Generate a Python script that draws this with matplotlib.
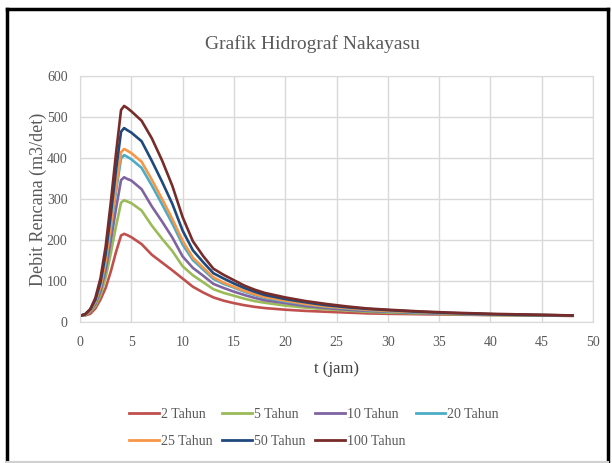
import matplotlib.pyplot as plt
from matplotlib.lines import Line2D

# jam
t = [0, 0.5, 1, 1.5, 2, 2.5, 3, 3.5, 4, 4.3, 4.6, 5, 6, 7, 8, 9, 10, 11, 12, 13,
     14, 15, 16, 17, 18, 20, 22, 24, 26, 28, 30, 33, 36, 40, 44, 48]

# debit rencana (m3/det) per kala ulang
q2 = [15, 16, 20, 33, 55, 83, 123, 170, 211, 215, 212, 207, 190, 164, 145, 126,
      106, 86, 72, 60, 52, 46, 41, 37, 34, 30, 27, 25, 23, 21, 20, 19, 18, 17, 16, 15]
q5 = [15, 17, 25, 39, 66, 108, 167, 232, 291, 297, 294, 290, 272, 235, 203, 173,
      136, 114, 97, 80, 71, 64, 57, 51, 47, 40, 35, 31, 28, 25, 23, 21, 19, 17, 16, 15]
q10 = [15, 18, 27, 44, 76, 127, 198, 275, 346, 353, 349, 345, 324, 282, 245, 206,
       160, 132, 113, 93, 83, 74, 66, 59, 53, 46, 39, 34, 30, 27, 25, 22, 20, 18, 17, 16]
q20 = [15, 18, 28, 48, 84, 144, 227, 317, 399, 407, 403, 397, 376, 333, 287, 240,
       189, 151, 128, 105, 93, 84, 74, 66, 59, 50, 43, 37, 33, 29, 26, 23, 21, 19, 17, 16]
q25 = [15, 18, 29, 50, 88, 149, 235, 328, 414, 422, 418, 412, 391, 347, 300, 251,
       198, 157, 133, 109, 96, 86, 76, 68, 61, 52, 44, 38, 34, 30, 27, 24, 21, 19, 17, 16]
q50 = [15, 19, 31, 54, 97, 166, 262, 368, 464, 473, 468, 462, 441, 393, 342, 288,
       223, 175, 146, 119, 106, 94, 83, 74, 66, 56, 48, 41, 36, 32, 29, 25, 22, 19, 17, 16]
q100 = [15, 19, 31, 59, 107, 184, 291, 409, 517, 527, 522, 514, 491, 448, 394, 332,
        256, 197, 161, 130, 115, 102, 89, 79, 71, 60, 51, 44, 38, 33, 30, 26, 23, 20, 18, 16]

labels = ['2 Tahun', '5 Tahun', '10 Tahun', '20 Tahun', '25 Tahun', '50 Tahun', '100 Tahun']
series = [q2, q5, q10, q20, q25, q50, q100]
colors = ['#C0504D', '#9BBB59', '#8064A2', '#4BACC6', '#F79646', '#1F497D', '#772C2A']

plt.rcParams['font.family'] = ['Liberation Serif', 'DejaVu Serif']

fig = plt.figure(figsize=(6.12, 4.63), dpi=100)
ax = fig.add_axes([80 / 612, 1 - 322 / 463, (593 - 80) / 612, (322 - 76) / 463])

for q, lab, c in zip(series, labels, colors):
    ax.plot(t, q, color=c, lw=1.9, label=lab, solid_joinstyle='round')

ax.set_xlim(0, 50)
ax.set_ylim(0, 600)
ax.set_xticks(range(0, 51, 5))
ax.set_yticks(range(0, 601, 100))
ax.grid(True, color='#D9D9D9', lw=1)
ax.set_axisbelow(True)
for s in ax.spines.values():
    s.set_color('#D9D9D9')
ax.tick_params(length=0, labelsize=10, colors='#595959')
ax.tick_params(axis='x', pad=10)
ax.tick_params(axis='y', pad=9)

ax.set_xlabel('t (jam)', fontsize=12, color='#404040', labelpad=9)
fig.text(38 / 612, 1 - 199 / 463, 'Debit Rencana (m3/det)', rotation=90,
         ha='center', va='center', fontsize=13, color='#595959')
fig.text(0.51, 0.905, 'Grafik Hidrograf Nakayasu', ha='center', va='center',
         fontsize=14, color='#595959')

# legend filled row by row like Excel
order = [0, 4, 1, 5, 2, 6, 3]
handles = [Line2D([], [], color=colors[i], lw=2) for i in order]
fig.legend(handles, [labels[i] for i in order], ncol=4, frameon=False,
           loc='center', bbox_to_anchor=(314 / 612, 1 - 428 / 463), fontsize=10,
           labelcolor='#595959', handlelength=2.15, handletextpad=0.15,
           columnspacing=0.7, labelspacing=1.0)

# outer frame
fig.add_artist(Line2D([0.011, 0.011], [0, 0.981], color='black', lw=2.5, transform=fig.transFigure))
fig.add_artist(Line2D([0.011, 0.994], [0.981, 0.981], color='black', lw=2.5, transform=fig.transFigure))
fig.add_artist(Line2D([0.994, 0.994], [0, 0.981], color='black', lw=2.5, transform=fig.transFigure))
fig.add_artist(Line2D([0.011, 0.994], [0.003, 0.003], color='#D0D0D0', lw=1.5, transform=fig.transFigure))

fig.savefig('out.png', dpi=100)
